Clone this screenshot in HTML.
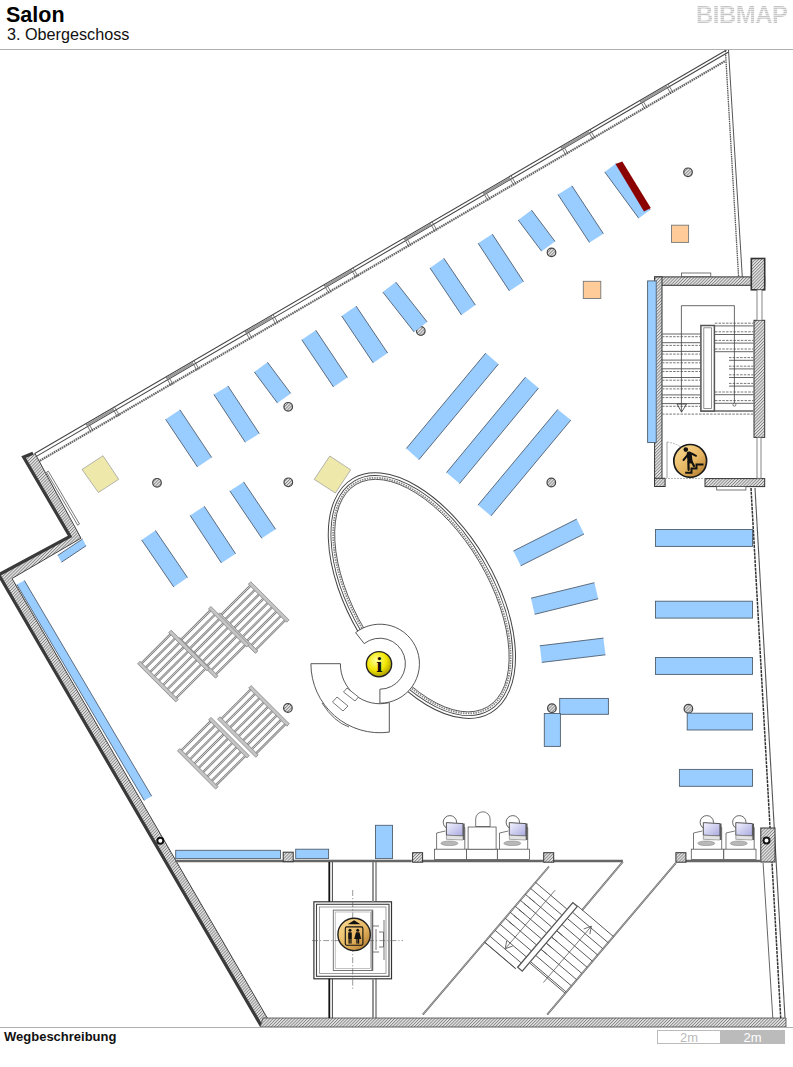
<!DOCTYPE html>
<html><head><meta charset="utf-8"><style>
html,body{margin:0;padding:0;background:#fff;width:793px;height:1067px;overflow:hidden}
body{position:relative;font-family:"Liberation Sans",sans-serif}
.t1{position:absolute;left:6px;top:2.5px;font-size:21.5px;font-weight:bold;color:#000;line-height:24px}
.t2{position:absolute;left:7px;top:23.5px;font-size:16.2px;color:#111;line-height:20px}
.hl{position:absolute;left:0;top:49px;width:793px;height:1px;background:#b0b0b0}
.logo{position:absolute;left:696px;top:2px;font-size:23.5px;font-weight:bold;color:transparent;background:repeating-linear-gradient(#c6c6c6 0 1px,#e8e8e8 1px 2px);-webkit-background-clip:text;background-clip:text;letter-spacing:-0.5px;line-height:26px;transform:scaleX(1.02);transform-origin:left}
.fl{position:absolute;left:0;top:1027px;width:793px;height:1px;background:#b0b0b0}
.wb{position:absolute;left:4px;top:1028.8px;font-size:13px;font-weight:bold;color:#111;line-height:16px}
.sb1{position:absolute;left:657px;top:1030px;width:62px;height:12px;border:1px solid #bbb;background:#fff;color:#bbb;font-size:13px;line-height:13px;text-align:center}
.sb2{position:absolute;left:720px;top:1030px;width:65px;height:14px;background:#bbb;color:#fff;font-size:13px;line-height:15px;text-align:center}
svg{position:absolute;left:0;top:0}
</style></head><body>
<svg width="793" height="1067" viewBox="0 0 793 1067"><defs><pattern id="h" width="2.2" height="2.2" patternUnits="userSpaceOnUse" patternTransform="rotate(45)"><rect width="2.2" height="2.2" fill="#e6e6e6"/><rect width="0.85" height="2.2" fill="#808080"/></pattern><radialGradient id="yg" cx="40%" cy="35%" r="65%"><stop offset="0" stop-color="#ffff9a"/><stop offset="0.6" stop-color="#f2e600"/><stop offset="1" stop-color="#b0a000"/></radialGradient><linearGradient id="gg" x1="0.15" y1="0.1" x2="0.9" y2="0.95"><stop offset="0" stop-color="#f7d58a"/><stop offset="0.55" stop-color="#e5b460"/><stop offset="1" stop-color="#b07a2c"/></linearGradient><linearGradient id="mg" x1="0" y1="0" x2="1" y2="1"><stop offset="0" stop-color="#f4f4ff"/><stop offset="1" stop-color="#a8a8e0"/></linearGradient></defs><path d="M24,459.8 L726.5,50" stroke="#444" stroke-width="1.05" fill="none"/><path d="M30,460.1 L728.6,52" stroke="#444" stroke-width="1.05" fill="none"/><path d="M36,463 L725,61.1" stroke="#666" stroke-width="2.2" stroke-dasharray="1.6 0.7" fill="none"/><path d="M86,423.7 L91,432.3" stroke="#555" stroke-width="0.8"/><path d="M88,422.5 L93.1,431.1" stroke="#555" stroke-width="0.8"/><path d="M112.5,408.2 L117.5,416.9" stroke="#555" stroke-width="0.8"/><path d="M114.5,407 L119.6,415.7" stroke="#555" stroke-width="0.8"/><path d="M166,377 L171,385.7" stroke="#555" stroke-width="0.8"/><path d="M168,375.8 L173.1,384.4" stroke="#555" stroke-width="0.8"/><path d="M192,361.8 L197,370.5" stroke="#555" stroke-width="0.8"/><path d="M194,360.6 L199.1,369.3" stroke="#555" stroke-width="0.8"/><path d="M245,330.9 L250,339.6" stroke="#555" stroke-width="0.8"/><path d="M247,329.7 L252.1,338.4" stroke="#555" stroke-width="0.8"/><path d="M271,315.8 L276,324.4" stroke="#555" stroke-width="0.8"/><path d="M273,314.6 L278.1,323.2" stroke="#555" stroke-width="0.8"/><path d="M324,284.8 L329,293.5" stroke="#555" stroke-width="0.8"/><path d="M326,283.6 L331.1,292.3" stroke="#555" stroke-width="0.8"/><path d="M351,269.1 L356,277.7" stroke="#555" stroke-width="0.8"/><path d="M353,267.9 L358.1,276.5" stroke="#555" stroke-width="0.8"/><path d="M404,238.2 L409,246.8" stroke="#555" stroke-width="0.8"/><path d="M406,237 L411.1,245.6" stroke="#555" stroke-width="0.8"/><path d="M430,223 L435,231.6" stroke="#555" stroke-width="0.8"/><path d="M432,221.8 L437.1,230.4" stroke="#555" stroke-width="0.8"/><path d="M483,192.1 L488,200.7" stroke="#555" stroke-width="0.8"/><path d="M485,190.9 L490.1,199.5" stroke="#555" stroke-width="0.8"/><path d="M509,176.9 L514,185.5" stroke="#555" stroke-width="0.8"/><path d="M511,175.7 L516.1,184.3" stroke="#555" stroke-width="0.8"/><path d="M561,146.6 L566,155.2" stroke="#555" stroke-width="0.8"/><path d="M563,145.4 L568.1,154" stroke="#555" stroke-width="0.8"/><path d="M588,130.8 L593,139.5" stroke="#555" stroke-width="0.8"/><path d="M590,129.6 L595.1,138.3" stroke="#555" stroke-width="0.8"/><path d="M640,100.5 L645,109.1" stroke="#555" stroke-width="0.8"/><path d="M642,99.3 L647.1,107.9" stroke="#555" stroke-width="0.8"/><path d="M666,85.3 L671,94" stroke="#555" stroke-width="0.8"/><path d="M668,84.1 L673.1,92.7" stroke="#555" stroke-width="0.8"/><polygon points="87,423.7 113.5,408.2 113.5,410.8 87,426.3" fill="#999"/><polygon points="167,377 193,361.8 193,364.4 167,379.6" fill="#999"/><polygon points="246,330.9 272,315.8 272,318.4 246,333.5" fill="#999"/><polygon points="325,284.8 352,269.1 352,271.7 325,287.4" fill="#999"/><polygon points="405,238.2 431,223 431,225.6 405,240.8" fill="#999"/><polygon points="484,192.1 510,176.9 510,179.5 484,194.7" fill="#999"/><polygon points="562,146.6 589,130.8 589,133.4 562,149.2" fill="#999"/><polygon points="641,100.5 667,85.3 667,87.9 641,103.1" fill="#999"/><path d="M728.5,50 L742.3,277" stroke="#555" stroke-width="1" fill="none"/><path d="M725.4,50.5 L738.6,277" stroke="#555" stroke-width="1.3" stroke-dasharray="1.5 0.7" fill="none"/><polygon points="22.5,456.5 69,536 -2.4,574.3 260.2,1026 267.3,1018 12,578.5 81,538.2 35,453.5 32.2,452.7" fill="url(#h)"/><polyline points="33,453.2 23.6,457 70,536.5 -1.2,574.8 261,1025.5" fill="none" stroke="#3a3a3a" stroke-width="3.2"/><polyline points="267.3,1018 12,578.5 81,538.2 35,453.5" fill="none" stroke="#333" stroke-width="0.9"/><polygon points="46.5,472.2 48.3,471.2 79.5,524 77.7,525.2" fill="#fff" stroke="#555" stroke-width="0.8"/><polygon points="263,1018 786,1018 786,1027 260.2,1027" fill="url(#h)" stroke="#444" stroke-width="0.8"/><path d="M751,488 L780.7,1018" stroke="#333" stroke-width="1.5" stroke-dasharray="3 0.8" fill="none"/><path d="M755,488 L785,1018" stroke="#555" stroke-width="1.1" fill="none"/><path d="M763.1,863 L772.8,1018" stroke="#555" stroke-width="0.9" fill="none"/><rect x="760.8" y="828" width="14.2" height="34" fill="url(#h)" stroke="#333" stroke-width="1"/><circle cx="766.5" cy="840.5" r="3" fill="#fff" stroke="#111" stroke-width="2"/><rect x="654.6" y="276.9" width="110.1" height="8.4" fill="url(#h)" stroke="#333" stroke-width="1"/><rect x="654.6" y="276.9" width="7.4" height="208.5" fill="url(#h)" stroke="#333" stroke-width="1"/><rect x="751.3" y="258.5" width="13.4" height="31.3" fill="url(#h)" stroke="#333" stroke-width="1.6"/><rect x="754" y="320.3" width="10.7" height="117.1" fill="url(#h)" stroke="#333" stroke-width="1"/><rect x="654.6" y="478.3" width="10.5" height="8.2" fill="url(#h)" stroke="#333" stroke-width="1"/><rect x="705" y="478.6" width="59.7" height="8" fill="url(#h)" stroke="#333" stroke-width="1"/><rect x="757" y="289.8" width="5" height="30.5" fill="#fff" stroke="#666" stroke-width="0.8"/><rect x="757" y="437.4" width="4" height="40.9" fill="#fff" stroke="#666" stroke-width="0.8"/><rect x="681.5" y="273" width="29.3" height="3.5" fill="#fff" stroke="#555" stroke-width="0.8"/><rect x="716.7" y="486.6" width="29.2" height="3.4" fill="#fff" stroke="#555" stroke-width="0.8"/><path d="M662,334 H700.4" stroke="#555" stroke-width="0.9"/><path d="M662,336.7 H700.4" stroke="#777" stroke-width="1" stroke-dasharray="2.5 1.2"/><path d="M662,342.7 H700.4" stroke="#555" stroke-width="0.9"/><path d="M662,345.4 H700.4" stroke="#777" stroke-width="1" stroke-dasharray="2.5 1.2"/><path d="M662,351.4 H700.4" stroke="#555" stroke-width="0.9"/><path d="M662,354.1 H700.4" stroke="#777" stroke-width="1" stroke-dasharray="2.5 1.2"/><path d="M662,360.1 H700.4" stroke="#555" stroke-width="0.9"/><path d="M662,362.8 H700.4" stroke="#777" stroke-width="1" stroke-dasharray="2.5 1.2"/><path d="M662,368.8 H700.4" stroke="#555" stroke-width="0.9"/><path d="M662,371.5 H700.4" stroke="#777" stroke-width="1" stroke-dasharray="2.5 1.2"/><path d="M662,377.5 H700.4" stroke="#555" stroke-width="0.9"/><path d="M662,380.2 H700.4" stroke="#777" stroke-width="1" stroke-dasharray="2.5 1.2"/><path d="M662,386.2 H700.4" stroke="#555" stroke-width="0.9"/><path d="M662,388.9 H700.4" stroke="#777" stroke-width="1" stroke-dasharray="2.5 1.2"/><path d="M662,394.9 H700.4" stroke="#555" stroke-width="0.9"/><path d="M662,397.6 H700.4" stroke="#777" stroke-width="1" stroke-dasharray="2.5 1.2"/><path d="M662,403.6 H700.4" stroke="#555" stroke-width="0.9"/><path d="M662,406.3 H700.4" stroke="#777" stroke-width="1" stroke-dasharray="2.5 1.2"/><path d="M714.9,325.9 H753.5" stroke="#555" stroke-width="0.9"/><path d="M714.9,323.2 H753.5" stroke="#777" stroke-width="1" stroke-dasharray="2.5 1.2"/><path d="M714.9,334.5 H753.5" stroke="#555" stroke-width="0.9"/><path d="M714.9,331.8 H753.5" stroke="#777" stroke-width="1" stroke-dasharray="2.5 1.2"/><path d="M714.9,343.1 H753.5" stroke="#555" stroke-width="0.9"/><path d="M714.9,340.4 H753.5" stroke="#777" stroke-width="1" stroke-dasharray="2.5 1.2"/><path d="M714.9,351.7 H753.5" stroke="#555" stroke-width="0.9"/><path d="M714.9,349 H753.5" stroke="#777" stroke-width="1" stroke-dasharray="2.5 1.2"/><path d="M729,360.3 H753.5" stroke="#555" stroke-width="0.9"/><path d="M729,357.6 H753.5" stroke="#777" stroke-width="1" stroke-dasharray="2.5 1.2"/><path d="M729,368.9 H753.5" stroke="#555" stroke-width="0.9"/><path d="M729,366.2 H753.5" stroke="#777" stroke-width="1" stroke-dasharray="2.5 1.2"/><path d="M729,377.5 H753.5" stroke="#555" stroke-width="0.9"/><path d="M729,374.8 H753.5" stroke="#777" stroke-width="1" stroke-dasharray="2.5 1.2"/><path d="M729,386.1 H753.5" stroke="#555" stroke-width="0.9"/><path d="M729,383.4 H753.5" stroke="#777" stroke-width="1" stroke-dasharray="2.5 1.2"/><path d="M714.9,394.7 H753.5" stroke="#555" stroke-width="0.9"/><path d="M714.9,392 H753.5" stroke="#777" stroke-width="1" stroke-dasharray="2.5 1.2"/><path d="M714.9,403.3 H753.5" stroke="#555" stroke-width="0.9"/><path d="M714.9,400.6 H753.5" stroke="#777" stroke-width="1" stroke-dasharray="2.5 1.2"/><path d="M662,414.1 H753.5" stroke="#777" stroke-width="1" stroke-dasharray="2.5 1.2"/><path d="M700.4,411 H753.5" stroke="#666" stroke-width="1.4"/><rect x="700.9" y="325.5" width="13.5" height="85.5" fill="#fff" stroke="#555" stroke-width="1.5"/><rect x="703.8" y="327.8" width="7.8" height="80.7" fill="none" stroke="#777" stroke-width="0.8"/><path d="M681.4,412 V305.7 H734.4 V404.7" fill="none" stroke="#444" stroke-width="0.8"/><path d="M677,404 L686.5,404 L681.6,412.2 Z" fill="none" stroke="#333" stroke-width="0.8"/><circle cx="734.4" cy="404.7" r="1.5" fill="#fff" stroke="#444" stroke-width="0.7"/><path d="M667,442 Q684,444 687,458" stroke="#999" stroke-width="0.7" fill="none" stroke-dasharray="2 1"/><path d="M667,442 V478" stroke="#777" stroke-width="0.7" fill="none"/><path d="M665,478.5 H704" stroke="#999" stroke-width="0.7" stroke-dasharray="2 1"/><path d="M175,861 H411.8 M421.7,861 H543.5 M553.4,861 H622.9 M686,861 H760.8" stroke="#666" stroke-width="2.4"/><rect x="283.2" y="852.2" width="10" height="9.5" fill="url(#h)" stroke="#333" stroke-width="1"/><rect x="412.6" y="852.7" width="10" height="9.5" fill="url(#h)" stroke="#333" stroke-width="1"/><rect x="543.7" y="852.7" width="10" height="9.5" fill="url(#h)" stroke="#333" stroke-width="1"/><rect x="675.9" y="852.7" width="10" height="9.5" fill="url(#h)" stroke="#333" stroke-width="1"/><path d="M549,866.5 L422.8,1014.6 M622.9,861.7 L581.9,910.4 M675.9,862.8 L547.2,1014.6" stroke="#666" stroke-width="1.8" fill="none"/><path d="M549,866.5 L422.8,1014.6 M622.9,861.7 L581.9,910.4 M675.9,862.8 L547.2,1014.6" stroke="#eee" stroke-width="0.5" fill="none"/><g transform="matrix(-0.6485 0.7611 0.7611 0.6485 549 866.5)" stroke="#555" stroke-width="0.9" fill="none"><path d="M20.8,0 V41"/><path d="M28.6,0 V41"/><path d="M36.5,0 V41"/><path d="M44.3,0 V41"/><path d="M52.2,0 V41"/><path d="M60,0 V41"/><path d="M67.8,0 V41"/><path d="M75.7,0 V41"/><path d="M83.5,0 V41"/><path d="M91.4,0 V41"/><path d="M99.2,0 V41"/><path d="M11.5,47.5 V94.5"/><path d="M19.6,47.5 V94.5"/><path d="M27.7,47.5 V94.5"/><path d="M35.8,47.5 V94.5"/><path d="M43.9,47.5 V94.5"/><path d="M52,47.5 V94.5"/><path d="M60.1,47.5 V94.5"/><path d="M68.2,47.5 V94.5"/><path d="M76.3,47.5 V94.5"/><path d="M84.4,47.5 V94.5"/><path d="M99.5,0 V41 M86,48 V94.5"/><polygon points="12,41.5 12,47.5 97,47.5 97,41.5" fill="#fff" stroke="#555" stroke-width="1.3"/><path d="M14,20 H90 M18,71 H92" stroke-width="0.7"/><path d="M84,16 L91,20 L84,24" stroke-width="0.8"/><path d="M25,67 L18,71 L25,75" stroke-width="0.8"/><path d="M36.5,5 V12"/><path d="M44.3,5 V12"/><path d="M52.2,5 V12"/><path d="M60,5 V12"/><path d="M67.9,5 V12"/><path d="M43.9,48 V55"/><path d="M52,48 V55"/><path d="M60.1,48 V55"/><path d="M68.2,48 V55"/></g><rect x="313.9" y="901.8" width="77.6" height="77" fill="#fff" stroke="#333" stroke-width="1.2"/><rect x="316.5" y="904.3" width="72.5" height="72" fill="none" stroke="#444" stroke-width="1.1"/><rect x="319.5" y="907" width="66.5" height="66.5" fill="none" stroke="#777" stroke-width="0.7"/><path d="M329.3,862 V901.8 M329.3,978.8 V1018" stroke="#111" stroke-width="1.8"/><path d="M332.4,862 V901.8 M332.4,978.8 V1018 M376,862 V901.8 M376,978.8 V1018" stroke="#444" stroke-width="1"/><path d="M373,862 V901.8 M373,978.8 V1018" stroke="#888" stroke-width="1.8"/><rect x="333.3" y="910.1" width="39.5" height="60.4" fill="#fff" stroke="#666" stroke-width="0.9"/><rect x="335.2" y="912" width="35.4" height="56.6" fill="none" stroke="#999" stroke-width="0.6"/><path d="M372.2,911 V970" stroke="#666" stroke-width="1.5"/><path d="M312,940.6 H403 M352.7,890 V990" stroke="#555" stroke-width="0.6" stroke-dasharray="6 2 1.2 2"/><path d="M372.8,926 H379 M372.8,952 H379 M376,929 V950 M379,932 H383.5 V947 H379 M384,920 V960" fill="none" stroke="#555" stroke-width="0.8"/><path d="M436.6,849.2 V833 L445.4,831 M464.8,849.2 V827.5 L462.6,828" fill="none" stroke="#555" stroke-width="0.8"/><circle cx="449.9" cy="822.3" r="6.7" fill="#fff" stroke="#555" stroke-width="0.9"/><ellipse cx="449.4" cy="843.3" rx="8.5" ry="2.3" fill="#b8b8b8" stroke="#888" stroke-width="0.6"/><polygon points="446.4,822.6 463,823.6 463,836 446.4,835.2" fill="url(#mg)" stroke="#444" stroke-width="0.9"/><polygon points="446.4,835.2 463,836 463,840 446.4,839.3" fill="#e4e4e4" stroke="#777" stroke-width="0.6"/><path d="M463.9,823.6 V840" stroke="#555" stroke-width="1.5"/><rect x="434.4" y="849.2" width="32.2" height="10.2" fill="#fff" stroke="#555" stroke-width="0.8"/><path d="M499.5,849.2 V833 L508.3,831 M527.7,849.2 V827.5 L525.5,828" fill="none" stroke="#555" stroke-width="0.8"/><circle cx="512.8" cy="822.3" r="6.7" fill="#fff" stroke="#555" stroke-width="0.9"/><ellipse cx="512.3" cy="843.3" rx="8.5" ry="2.3" fill="#b8b8b8" stroke="#888" stroke-width="0.6"/><polygon points="509.3,822.6 525.9,823.6 525.9,836 509.3,835.2" fill="url(#mg)" stroke="#444" stroke-width="0.9"/><polygon points="509.3,835.2 525.9,836 525.9,840 509.3,839.3" fill="#e4e4e4" stroke="#777" stroke-width="0.6"/><path d="M526.8,823.6 V840" stroke="#555" stroke-width="1.5"/><rect x="497.3" y="849.2" width="32.2" height="10.2" fill="#fff" stroke="#555" stroke-width="0.8"/><rect x="466.6" y="849.2" width="30.7" height="10.2" fill="#fff" stroke="#555" stroke-width="0.8"/><path d="M475.7,826.5 V819 A7.2,7.2 0 0 1 490.1,819 V826.5 Z" fill="#fff" stroke="#555" stroke-width="0.8"/><rect x="468.1" y="827" width="28" height="22.2" fill="#fff" stroke="#555" stroke-width="0.8"/><path d="M693.5,849.2 V833 L702.3,831 M721.7,849.2 V827.5 L719.5,828" fill="none" stroke="#555" stroke-width="0.8"/><circle cx="706.8" cy="822.3" r="6.7" fill="#fff" stroke="#555" stroke-width="0.9"/><ellipse cx="706.3" cy="843.3" rx="8.5" ry="2.3" fill="#b8b8b8" stroke="#888" stroke-width="0.6"/><polygon points="703.3,822.6 719.9,823.6 719.9,836 703.3,835.2" fill="url(#mg)" stroke="#444" stroke-width="0.9"/><polygon points="703.3,835.2 719.9,836 719.9,840 703.3,839.3" fill="#e4e4e4" stroke="#777" stroke-width="0.6"/><path d="M720.8,823.6 V840" stroke="#555" stroke-width="1.5"/><rect x="691.3" y="849.2" width="32.2" height="10.2" fill="#fff" stroke="#555" stroke-width="0.8"/><path d="M726,849.2 V833 L734.8,831 M754.2,849.2 V827.5 L752,828" fill="none" stroke="#555" stroke-width="0.8"/><circle cx="739.3" cy="822.3" r="6.7" fill="#fff" stroke="#555" stroke-width="0.9"/><ellipse cx="738.8" cy="843.3" rx="8.5" ry="2.3" fill="#b8b8b8" stroke="#888" stroke-width="0.6"/><polygon points="735.8,822.6 752.4,823.6 752.4,836 735.8,835.2" fill="url(#mg)" stroke="#444" stroke-width="0.9"/><polygon points="735.8,835.2 752.4,836 752.4,840 735.8,839.3" fill="#e4e4e4" stroke="#777" stroke-width="0.6"/><path d="M753.3,823.6 V840" stroke="#555" stroke-width="1.5"/><rect x="723.8" y="849.2" width="32.2" height="10.2" fill="#fff" stroke="#555" stroke-width="0.8"/><circle cx="157" cy="482.8" r="4.3" fill="url(#h)" stroke="#444" stroke-width="1.2"/><circle cx="288.3" cy="482.3" r="4.3" fill="url(#h)" stroke="#444" stroke-width="1.2"/><circle cx="288.2" cy="406.8" r="4.3" fill="url(#h)" stroke="#444" stroke-width="1.2"/><circle cx="420.8" cy="331" r="4.3" fill="url(#h)" stroke="#444" stroke-width="1.2"/><circle cx="551.5" cy="252.4" r="4.3" fill="url(#h)" stroke="#444" stroke-width="1.2"/><circle cx="688" cy="172.3" r="4.3" fill="url(#h)" stroke="#444" stroke-width="1.2"/><circle cx="551.3" cy="482.5" r="4.3" fill="url(#h)" stroke="#444" stroke-width="1.2"/><circle cx="287.9" cy="708" r="4.3" fill="url(#h)" stroke="#444" stroke-width="1.2"/><circle cx="551.9" cy="708.2" r="4.3" fill="url(#h)" stroke="#444" stroke-width="1.2"/><circle cx="688.4" cy="708.7" r="4.3" fill="url(#h)" stroke="#444" stroke-width="1.2"/><circle cx="160.3" cy="840.8" r="3" fill="#fff" stroke="#111" stroke-width="2"/><polygon points="165.6,419.3 179.9,409.8 211.7,457.5 197.5,467" fill="#99ccff"/><path d="M179.9,409.8 L211.7,457.5 M165.6,419.3 L197.5,467" stroke="#4f5f70" stroke-width="0.9" fill="none"/><polygon points="213.9,394.5 227.9,385.9 259.3,433.6 245.3,442.3" fill="#99ccff"/><path d="M227.9,385.9 L259.3,433.6 M213.9,394.5 L245.3,442.3" stroke="#4f5f70" stroke-width="0.9" fill="none"/><polygon points="254.3,371.9 267.5,362.3 290.7,393.4 277.5,403.1" fill="#99ccff"/><path d="M267.5,362.3 L290.7,393.4 M254.3,371.9 L277.5,403.1" stroke="#4f5f70" stroke-width="0.9" fill="none"/><polygon points="301.8,339.8 315.8,330.2 347.4,377.5 333.5,387" fill="#99ccff"/><path d="M315.8,330.2 L347.4,377.5 M301.8,339.8 L333.5,387" stroke="#4f5f70" stroke-width="0.9" fill="none"/><polygon points="341.7,316 356.1,306.1 387.6,353 373.2,362.9" fill="#99ccff"/><path d="M356.1,306.1 L387.6,353 M341.7,316 L373.2,362.9" stroke="#4f5f70" stroke-width="0.9" fill="none"/><polygon points="382.8,292.1 395.8,282.1 427.1,321.9 414.1,331.9" fill="#99ccff"/><path d="M395.8,282.1 L427.1,321.9 M382.8,292.1 L414.1,331.9" stroke="#4f5f70" stroke-width="0.9" fill="none"/><polygon points="430,268 443.8,258.2 475.4,305.1 461.5,315" fill="#99ccff"/><path d="M443.8,258.2 L475.4,305.1 M430,268 L461.5,315" stroke="#4f5f70" stroke-width="0.9" fill="none"/><polygon points="478.1,243.2 492.3,234.1 523.5,281.7 509.4,290.9" fill="#99ccff"/><path d="M492.3,234.1 L523.5,281.7 M478.1,243.2 L509.4,290.9" stroke="#4f5f70" stroke-width="0.9" fill="none"/><polygon points="518.2,220 531.5,210.1 555,241.4 541.6,251.2" fill="#99ccff"/><path d="M531.5,210.1 L555,241.4 M518.2,220 L541.6,251.2" stroke="#4f5f70" stroke-width="0.9" fill="none"/><polygon points="558,194.6 571.9,185.8 603.4,233.7 589.5,242.5" fill="#99ccff"/><path d="M571.9,185.8 L603.4,233.7 M558,194.6 L589.5,242.5" stroke="#4f5f70" stroke-width="0.9" fill="none"/><polygon points="604.7,171.9 616,163.6 650.1,209.9 638.7,218.2" fill="#99ccff"/><path d="M616,163.6 L650.1,209.9 M604.7,171.9 L638.7,218.2" stroke="#4f5f70" stroke-width="0.9" fill="none"/><polygon points="141.6,539.9 155.4,530.4 187.5,577.6 173.8,587.1" fill="#99ccff"/><path d="M155.4,530.4 L187.5,577.6 M141.6,539.9 L173.8,587.1" stroke="#4f5f70" stroke-width="0.9" fill="none"/><polygon points="190.1,515.4 204.2,506.2 235.6,553.8 221.4,563" fill="#99ccff"/><path d="M204.2,506.2 L235.6,553.8 M190.1,515.4 L221.4,563" stroke="#4f5f70" stroke-width="0.9" fill="none"/><polygon points="229.8,490.9 243.6,481.9 275.6,529.3 261.8,538.3" fill="#99ccff"/><path d="M243.6,481.9 L275.6,529.3 M229.8,490.9 L261.8,538.3" stroke="#4f5f70" stroke-width="0.9" fill="none"/><polygon points="418.9,459.7 406.3,448.5 485.8,353 498.4,364.1" fill="#99ccff"/><path d="M406.3,448.5 L485.8,353 M418.9,459.7 L498.4,364.1" stroke="#4f5f70" stroke-width="0.9" fill="none"/><polygon points="459.5,483.6 446.5,472.6 525.5,377.1 538.5,388.1" fill="#99ccff"/><path d="M446.5,472.6 L525.5,377.1 M459.5,483.6 L538.5,388.1" stroke="#4f5f70" stroke-width="0.9" fill="none"/><polygon points="491,515.9 478,505.1 557.8,409.4 570.8,420.1" fill="#99ccff"/><path d="M478,505.1 L557.8,409.4 M491,515.9 L570.8,420.1" stroke="#4f5f70" stroke-width="0.9" fill="none"/><polygon points="520.7,565.8 513.4,551 576.7,519.1 584,534" fill="#99ccff"/><path d="M513.4,551 L576.7,519.1 M520.7,565.8 L584,534" stroke="#4f5f70" stroke-width="0.9" fill="none"/><polygon points="534.7,614.3 531,598.2 594.4,582.7 598.2,598.7" fill="#99ccff"/><path d="M531,598.2 L594.4,582.7 M534.7,614.3 L598.2,598.7" stroke="#4f5f70" stroke-width="0.9" fill="none"/><polygon points="541.8,662.4 539.8,645.8 603.4,638.1 605.5,654.8" fill="#99ccff"/><path d="M539.8,645.8 L603.4,638.1 M541.8,662.4 L605.5,654.8" stroke="#4f5f70" stroke-width="0.9" fill="none"/><polygon points="61.5,562.2 57.7,555.4 82.5,539 86.2,545.7" fill="#99ccff"/><path d="M57.7,555.4 L82.5,539 M61.5,562.2 L86.2,545.7" stroke="#4f5f70" stroke-width="0.9" fill="none"/><polygon points="16.9,584.6 24.3,580.4 151.7,796.2 144.3,800.5" fill="#99ccff"/><path d="M24.3,580.4 L151.7,796.2 M16.9,584.6 L144.3,800.5" stroke="#4f5f70" stroke-width="0.9" fill="none"/><polygon points="615.5,164 622.3,161.4 650.8,208 644,211.5" fill="#8b0000"/><rect x="559.7" y="698.4" width="48.7" height="15.9" fill="#99ccff" stroke="#4f5f70" stroke-width="0.9"/><rect x="544.3" y="713.5" width="16.1" height="32.9" fill="#99ccff" stroke="#4f5f70" stroke-width="0.9"/><rect x="655.5" y="529.5" width="97" height="16.9" fill="#99ccff" stroke="#4f5f70" stroke-width="0.9"/><rect x="655.5" y="601.2" width="97" height="16.9" fill="#99ccff" stroke="#4f5f70" stroke-width="0.9"/><rect x="655.5" y="657.5" width="97" height="16.9" fill="#99ccff" stroke="#4f5f70" stroke-width="0.9"/><rect x="687.2" y="713.2" width="65.3" height="16.8" fill="#99ccff" stroke="#4f5f70" stroke-width="0.9"/><rect x="679.4" y="769.4" width="73.1" height="16.9" fill="#99ccff" stroke="#4f5f70" stroke-width="0.9"/><rect x="175.7" y="850.3" width="104.8" height="8.3" fill="#99ccff" stroke="#4f5f70" stroke-width="0.9"/><rect x="295.7" y="849.2" width="32.9" height="9.4" fill="#99ccff" stroke="#4f5f70" stroke-width="0.9"/><rect x="375.5" y="825.3" width="17" height="33.3" fill="#99ccff" stroke="#4f5f70" stroke-width="0.9"/><rect x="647.6" y="280.9" width="8.6" height="161.6" fill="#99ccff" stroke="#4f5f70" stroke-width="0.9"/><rect x="671.5" y="225.2" width="17.1" height="17.2" fill="#ffcc99" stroke="#777" stroke-width="0.9"/><rect x="583.3" y="281.3" width="17.5" height="17.2" fill="#ffcc99" stroke="#777" stroke-width="0.9"/><polygon points="82,469.5 103,455.7 118.7,479.3 98.4,492.5" fill="#eee8aa" stroke="#999" stroke-width="0.7"/><polygon points="329.8,456 350.7,469.8 335.4,493 314.2,479.4" fill="#eee8aa" stroke="#999" stroke-width="0.7"/><g transform="translate(249.6 582.9) rotate(45)"><path d="M2.5,1 V43" stroke="#808080" stroke-width="2.3"/><path d="M2.5,1 V43" stroke="#e0e0e0" stroke-width="0.8"/><path d="M8.6,1 V43" stroke="#808080" stroke-width="2.3"/><path d="M8.6,1 V43" stroke="#e0e0e0" stroke-width="0.8"/><path d="M14.8,1 V43" stroke="#808080" stroke-width="2.3"/><path d="M14.8,1 V43" stroke="#e0e0e0" stroke-width="0.8"/><path d="M20.9,1 V43" stroke="#808080" stroke-width="2.3"/><path d="M20.9,1 V43" stroke="#e0e0e0" stroke-width="0.8"/><path d="M27,1 V43" stroke="#808080" stroke-width="2.3"/><path d="M27,1 V43" stroke="#e0e0e0" stroke-width="0.8"/><path d="M33.1,1 V43" stroke="#808080" stroke-width="2.3"/><path d="M33.1,1 V43" stroke="#e0e0e0" stroke-width="0.8"/><path d="M39.2,1 V43" stroke="#808080" stroke-width="2.3"/><path d="M39.2,1 V43" stroke="#e0e0e0" stroke-width="0.8"/><path d="M45.4,1 V43" stroke="#808080" stroke-width="2.3"/><path d="M45.4,1 V43" stroke="#e0e0e0" stroke-width="0.8"/><path d="M51.5,1 V43" stroke="#808080" stroke-width="2.3"/><path d="M51.5,1 V43" stroke="#e0e0e0" stroke-width="0.8"/><rect x="0" y="-1.7" width="54" height="3.4" fill="#c4c4c4" stroke="#8a8a8a" stroke-width="0.8"/><rect x="0" y="42.3" width="54" height="3.4" fill="#c4c4c4" stroke="#8a8a8a" stroke-width="0.8"/></g><g transform="translate(209.7 607.7) rotate(45)"><path d="M2.5,1 V43" stroke="#808080" stroke-width="2.3"/><path d="M2.5,1 V43" stroke="#e0e0e0" stroke-width="0.8"/><path d="M8.6,1 V43" stroke="#808080" stroke-width="2.3"/><path d="M8.6,1 V43" stroke="#e0e0e0" stroke-width="0.8"/><path d="M14.8,1 V43" stroke="#808080" stroke-width="2.3"/><path d="M14.8,1 V43" stroke="#e0e0e0" stroke-width="0.8"/><path d="M20.9,1 V43" stroke="#808080" stroke-width="2.3"/><path d="M20.9,1 V43" stroke="#e0e0e0" stroke-width="0.8"/><path d="M27,1 V43" stroke="#808080" stroke-width="2.3"/><path d="M27,1 V43" stroke="#e0e0e0" stroke-width="0.8"/><path d="M33.1,1 V43" stroke="#808080" stroke-width="2.3"/><path d="M33.1,1 V43" stroke="#e0e0e0" stroke-width="0.8"/><path d="M39.2,1 V43" stroke="#808080" stroke-width="2.3"/><path d="M39.2,1 V43" stroke="#e0e0e0" stroke-width="0.8"/><path d="M45.4,1 V43" stroke="#808080" stroke-width="2.3"/><path d="M45.4,1 V43" stroke="#e0e0e0" stroke-width="0.8"/><path d="M51.5,1 V43" stroke="#808080" stroke-width="2.3"/><path d="M51.5,1 V43" stroke="#e0e0e0" stroke-width="0.8"/><rect x="0" y="-1.7" width="54" height="3.4" fill="#c4c4c4" stroke="#8a8a8a" stroke-width="0.8"/><rect x="0" y="42.3" width="54" height="3.4" fill="#c4c4c4" stroke="#8a8a8a" stroke-width="0.8"/></g><g transform="translate(169.9 631.4) rotate(45)"><path d="M2.5,1 V43" stroke="#808080" stroke-width="2.3"/><path d="M2.5,1 V43" stroke="#e0e0e0" stroke-width="0.8"/><path d="M8.6,1 V43" stroke="#808080" stroke-width="2.3"/><path d="M8.6,1 V43" stroke="#e0e0e0" stroke-width="0.8"/><path d="M14.8,1 V43" stroke="#808080" stroke-width="2.3"/><path d="M14.8,1 V43" stroke="#e0e0e0" stroke-width="0.8"/><path d="M20.9,1 V43" stroke="#808080" stroke-width="2.3"/><path d="M20.9,1 V43" stroke="#e0e0e0" stroke-width="0.8"/><path d="M27,1 V43" stroke="#808080" stroke-width="2.3"/><path d="M27,1 V43" stroke="#e0e0e0" stroke-width="0.8"/><path d="M33.1,1 V43" stroke="#808080" stroke-width="2.3"/><path d="M33.1,1 V43" stroke="#e0e0e0" stroke-width="0.8"/><path d="M39.2,1 V43" stroke="#808080" stroke-width="2.3"/><path d="M39.2,1 V43" stroke="#e0e0e0" stroke-width="0.8"/><path d="M45.4,1 V43" stroke="#808080" stroke-width="2.3"/><path d="M45.4,1 V43" stroke="#e0e0e0" stroke-width="0.8"/><path d="M51.5,1 V43" stroke="#808080" stroke-width="2.3"/><path d="M51.5,1 V43" stroke="#e0e0e0" stroke-width="0.8"/><rect x="0" y="-1.7" width="54" height="3.4" fill="#c4c4c4" stroke="#8a8a8a" stroke-width="0.8"/><rect x="0" y="42.3" width="54" height="3.4" fill="#c4c4c4" stroke="#8a8a8a" stroke-width="0.8"/></g><g transform="translate(249.9 686.8) rotate(45)"><path d="M2.5,1 V43" stroke="#808080" stroke-width="2.3"/><path d="M2.5,1 V43" stroke="#e0e0e0" stroke-width="0.8"/><path d="M8.6,1 V43" stroke="#808080" stroke-width="2.3"/><path d="M8.6,1 V43" stroke="#e0e0e0" stroke-width="0.8"/><path d="M14.8,1 V43" stroke="#808080" stroke-width="2.3"/><path d="M14.8,1 V43" stroke="#e0e0e0" stroke-width="0.8"/><path d="M20.9,1 V43" stroke="#808080" stroke-width="2.3"/><path d="M20.9,1 V43" stroke="#e0e0e0" stroke-width="0.8"/><path d="M27,1 V43" stroke="#808080" stroke-width="2.3"/><path d="M27,1 V43" stroke="#e0e0e0" stroke-width="0.8"/><path d="M33.1,1 V43" stroke="#808080" stroke-width="2.3"/><path d="M33.1,1 V43" stroke="#e0e0e0" stroke-width="0.8"/><path d="M39.2,1 V43" stroke="#808080" stroke-width="2.3"/><path d="M39.2,1 V43" stroke="#e0e0e0" stroke-width="0.8"/><path d="M45.4,1 V43" stroke="#808080" stroke-width="2.3"/><path d="M45.4,1 V43" stroke="#e0e0e0" stroke-width="0.8"/><path d="M51.5,1 V43" stroke="#808080" stroke-width="2.3"/><path d="M51.5,1 V43" stroke="#e0e0e0" stroke-width="0.8"/><rect x="0" y="-1.7" width="54" height="3.4" fill="#c4c4c4" stroke="#8a8a8a" stroke-width="0.8"/><rect x="0" y="42.3" width="54" height="3.4" fill="#c4c4c4" stroke="#8a8a8a" stroke-width="0.8"/></g><g transform="translate(209.8 718.6) rotate(45)"><path d="M2.5,1 V43" stroke="#808080" stroke-width="2.3"/><path d="M2.5,1 V43" stroke="#e0e0e0" stroke-width="0.8"/><path d="M8.6,1 V43" stroke="#808080" stroke-width="2.3"/><path d="M8.6,1 V43" stroke="#e0e0e0" stroke-width="0.8"/><path d="M14.8,1 V43" stroke="#808080" stroke-width="2.3"/><path d="M14.8,1 V43" stroke="#e0e0e0" stroke-width="0.8"/><path d="M20.9,1 V43" stroke="#808080" stroke-width="2.3"/><path d="M20.9,1 V43" stroke="#e0e0e0" stroke-width="0.8"/><path d="M27,1 V43" stroke="#808080" stroke-width="2.3"/><path d="M27,1 V43" stroke="#e0e0e0" stroke-width="0.8"/><path d="M33.1,1 V43" stroke="#808080" stroke-width="2.3"/><path d="M33.1,1 V43" stroke="#e0e0e0" stroke-width="0.8"/><path d="M39.2,1 V43" stroke="#808080" stroke-width="2.3"/><path d="M39.2,1 V43" stroke="#e0e0e0" stroke-width="0.8"/><path d="M45.4,1 V43" stroke="#808080" stroke-width="2.3"/><path d="M45.4,1 V43" stroke="#e0e0e0" stroke-width="0.8"/><path d="M51.5,1 V43" stroke="#808080" stroke-width="2.3"/><path d="M51.5,1 V43" stroke="#e0e0e0" stroke-width="0.8"/><rect x="0" y="-1.7" width="54" height="3.4" fill="#c4c4c4" stroke="#8a8a8a" stroke-width="0.8"/><rect x="0" y="42.3" width="54" height="3.4" fill="#c4c4c4" stroke="#8a8a8a" stroke-width="0.8"/></g><ellipse cx="421.9" cy="595.6" transform="rotate(59.4 421.9 595.6)" rx="135.9" ry="73.3" fill="none" stroke="#444" stroke-width="1"/><ellipse cx="421.9" cy="595.6" transform="rotate(59.4 421.9 595.6)" rx="133.1" ry="70.5" fill="none" stroke="#444" stroke-width="0.9"/><ellipse cx="421.9" cy="595.6" transform="rotate(59.4 421.9 595.6)" rx="130.8" ry="68.2" fill="none" stroke="#888" stroke-width="1.8" stroke-dasharray="1.5 1"/><ellipse cx="421.9" cy="595.6" transform="rotate(59.4 421.9 595.6)" rx="129.2" ry="66.6" fill="none" stroke="#444" stroke-width="0.8"/><circle cx="379.9" cy="663.7" r="39" fill="#fff"/><path d="M355.6,632.6 A39.5,39.5 0 1 1 379.9,703.2 L379.9,689.2 A25.5,25.5 0 1 0 364.2,643.6 Z" fill="#fff" stroke="#444" stroke-width="0.9"/><path d="M310.9,663.7 A69,69 0 0 0 389.3,732.1 L389.3,702.6 A39.5,39.5 0 0 1 340.4,663.7 Z" fill="#fff" stroke="#444" stroke-width="0.9"/><polygon points="343.5,692 347,688 358.5,697 355,701" fill="#fff" stroke="#555" stroke-width="0.8"/><polygon points="332.5,702 337,697 348,706 343,711" fill="#fff" stroke="#555" stroke-width="0.8"/><path d="M322,703 Q334,722 349,727" fill="none" stroke="#666" stroke-width="1"/><circle cx="379" cy="664.2" r="12.6" fill="url(#yg)" stroke="#222" stroke-width="1.4"/><text x="379.2" y="672.3" text-anchor="middle" font-family="Liberation Serif" font-weight="bold" font-size="22" fill="#111">i</text><circle cx="354.1" cy="934.4" r="16.2" fill="url(#gg)" stroke="#222" stroke-width="1.4"/><g fill="#111"><path d="M347.8,924.2 L354.1,920.3 L360.4,924.2 Z"/><rect x="345.3" y="926.9" width="17.6" height="18.4" rx="1.5" fill="none" stroke="#111" stroke-width="1.1"/><circle cx="350" cy="930.3" r="1.5"/><rect x="348.2" y="932.2" width="3.6" height="6.5" rx="0.6"/><rect x="348.5" y="938" width="1.3" height="5.6"/><rect x="350.3" y="938" width="1.3" height="5.6"/><circle cx="357.7" cy="930.3" r="1.5"/><path d="M356,932.2 H359.4 L361.2,939 H354.2 Z"/><rect x="356.3" y="938.5" width="1.3" height="5.1"/><rect x="357.9" y="938.5" width="1.3" height="5.1"/></g><circle cx="690.2" cy="460.9" r="16.4" fill="url(#gg)" stroke="#1a1a1a" stroke-width="1.7"/><g stroke="#111" stroke-linecap="round" fill="none"><circle cx="685.8" cy="449.6" r="2.3" fill="#111" stroke="none"/><path d="M689.2,454 L690,461" stroke-width="5"/><path d="M691.5,453.5 L696,455.8" stroke-width="2"/><path d="M687.5,455.2 L683.5,460" stroke-width="2"/><path d="M688.4,461.5 L688.6,469.8" stroke-width="2.2"/><path d="M691,460.5 L694,466" stroke-width="2.2"/><path d="M685.2,472.8 H691.5 V468.4 H696.5 V464.6 H703.5" stroke-width="2" stroke-linecap="butt"/></g></svg>
<div class="hl"></div>
<div class="t1">Salon</div>
<div class="t2">3. Obergeschoss</div>
<div class="logo">BIBMAP</div>
<div class="fl"></div>
<div class="wb">Wegbeschreibung</div>
<div class="sb1">2m</div><div class="sb2">2m</div>
</body></html>
